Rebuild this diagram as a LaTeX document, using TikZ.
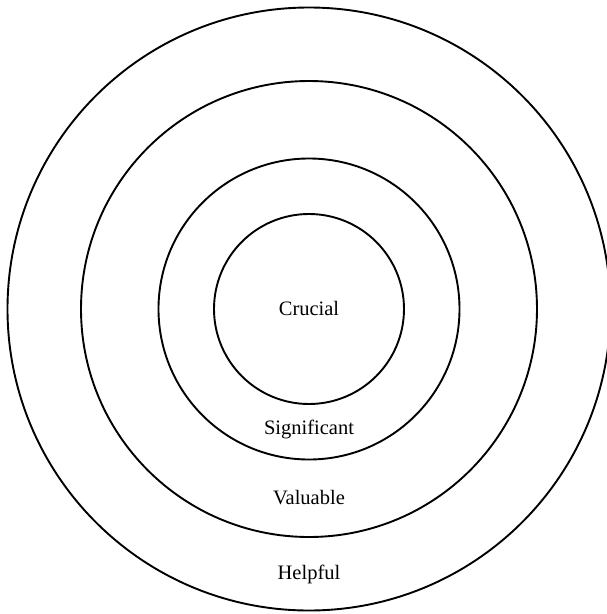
\documentclass[tikz,border=0pt]{standalone}
\usepackage{fontspec}
\setmainfont{Liberation Serif}
\begin{document}
\begin{tikzpicture}[x=1pt,y=-1pt,
  ring/.style={draw=black,line width=1.9pt},
  lbl/.style={anchor=base,inner sep=0pt,font=\fontsize{20.5}{24}\selectfont}]
\useasboundingbox (0,0) rectangle (607,614);
\coordinate (c) at (309,309);
\draw[ring] (c) circle[radius=301.5];
\draw[ring] (c) circle[radius=228];
\draw[ring] (c) circle[radius=150.5];
\draw[ring] (c) circle[radius=95];
\node[lbl] (crucial) at (309,315) {Crucial};
\node[lbl] (significant) at (309,434) {Significant};
\node[lbl] (valuable) at (309,504) {Valuable};
\node[lbl] (helpful) at (309,579) {Helpful};
\end{tikzpicture}
\end{document}
